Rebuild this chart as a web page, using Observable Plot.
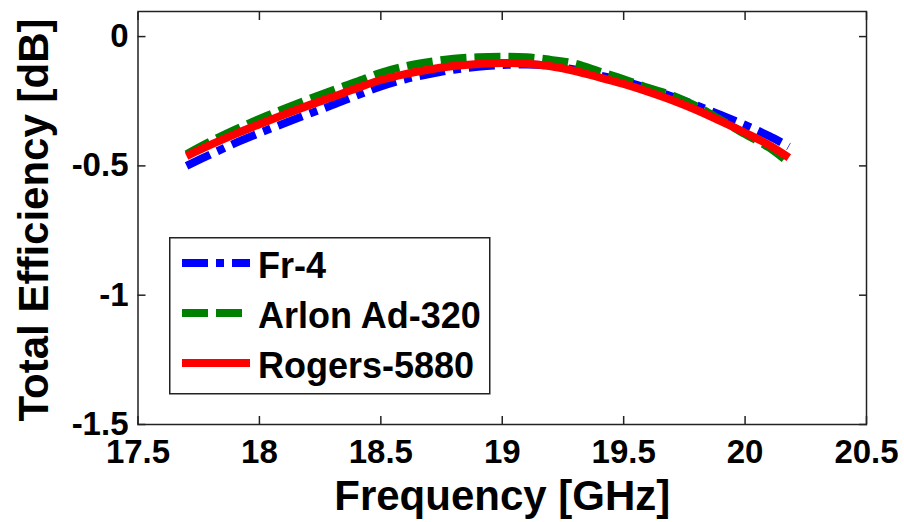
<!DOCTYPE html>
<html><head><meta charset="utf-8">
<script src="https://cdn.jsdelivr.net/npm/d3@7"></script>
<script src="https://cdn.jsdelivr.net/npm/@observablehq/plot@0.6"></script>
<style>
body{margin:0;background:#fff;}
#wrap{position:relative;width:904px;height:522px;font-family:"Liberation Sans",Arial,sans-serif;}
#legend{position:absolute;left:169px;top:237px;}
</style></head>
<body><div id="wrap"></div>
<script>
// ---- data ----
const freq   = [17.7,17.8,17.9,18.0,18.1,18.2,18.3,18.4,18.5,18.6,18.7,18.8,18.9,19.0,19.1,19.2,19.3,19.4,19.5,19.6,19.7,19.8,19.9,20.0,20.1,20.18];
const fr4    = [-0.500,-0.455,-0.412,-0.373,-0.336,-0.300,-0.265,-0.228,-0.193,-0.165,-0.145,-0.128,-0.117,-0.110,-0.108,-0.113,-0.128,-0.150,-0.172,-0.200,-0.232,-0.266,-0.303,-0.342,-0.385,-0.425];
const arlon  = [-0.455,-0.405,-0.360,-0.318,-0.280,-0.243,-0.208,-0.175,-0.140,-0.115,-0.098,-0.086,-0.080,-0.078,-0.080,-0.090,-0.105,-0.135,-0.165,-0.198,-0.228,-0.270,-0.322,-0.377,-0.430,-0.488];
const rogers = [-0.462,-0.418,-0.377,-0.339,-0.302,-0.267,-0.234,-0.200,-0.168,-0.145,-0.127,-0.114,-0.106,-0.102,-0.105,-0.115,-0.133,-0.158,-0.183,-0.213,-0.246,-0.284,-0.327,-0.372,-0.420,-0.468];
const seriesNames = ["Fr-4", "Arlon Ad-320", "Rogers-5880"];
const xTicks = [17.5, 18, 18.5, 19, 19.5, 20, 20.5];
const yTicks = [-1.5, -1, -0.5, 0];
const xLabel = "Frequency [GHz]";
const yLabel = "Total Efficiency [dB]";

// ---- styles ----
const colors = ["#0000ff", "#008000", "#ff0000"];
const dashes = ["26,8,8,8", "26,8", null];
const FONT = '"Liberation Sans", Arial, sans-serif';

const seriesValues = [fr4, arlon, rogers];
const rows = seriesValues.map((vals, s) => vals.map((v, i) => ({series: seriesNames[s], f: freq[i], v})));

const lineMarks = rows.map((data, s) => Plot.line(data, {
  x: "f", y: "v", stroke: colors[s], strokeWidth: 8,
  strokeDasharray: dashes[s] ?? undefined, strokeLinecap: "butt", strokeLinejoin: "round",
  curve: "catmull-rom"
}));

const axisStyle = {fontSize: 33, fontWeight: "bold", stroke: "#222", strokeWidth: 1.5, label: null};

const chart = Plot.plot({
  width: 904, height: 522,
  marginLeft: 137.5, marginRight: 38, marginTop: 11, marginBottom: 98,
  style: {fontFamily: FONT, color: "#000", background: "#fff", overflow: "visible"},
  x: {domain: [17.5, 20.5]},
  y: {domain: [-1.5, 0.097]},
  marks: [
    ...lineMarks,
    Plot.frame({stroke: "#222", strokeWidth: 1.5}),
    Plot.axisX(xTicks, {anchor: "bottom", tickSize: -8, tickPadding: 22.6, tickFormat: d => String(d), ...axisStyle}),
    Plot.axisX(xTicks, {anchor: "top", tickSize: -8, tickFormat: () => "", ...axisStyle}),
    Plot.axisY(yTicks, {anchor: "left", tickSize: -8, tickPadding: 17.5, tickFormat: d => String(d), ...axisStyle}),
    Plot.axisY(yTicks, {anchor: "right", tickSize: -8, tickFormat: () => "", ...axisStyle}),
    Plot.text([xLabel], {text: d => d, frameAnchor: "bottom", textAnchor: "middle", lineAnchor: "top", dy: 56, fontSize: 42, fontWeight: "bold", fill: "#000"}),
    Plot.text([yLabel], {text: d => d, frameAnchor: "left", textAnchor: "middle", rotate: -90, lineAnchor: "top", dx: -119.5, dy: 2, fontSize: 42, fontWeight: "bold", fill: "#000"})
  ]
});
document.getElementById("wrap").appendChild(chart);

// ---- legend (overlay box inside the axes) ----
const leg = d3.select("#wrap").append("svg").attr("id", "legend")
  .attr("width", 322).attr("height", 158);
leg.append("rect").attr("x", 0.75).attr("y", 0.75).attr("width", 320).attr("height", 156)
  .attr("fill", "#fff").attr("stroke", "#222").attr("stroke-width", 1.5);
seriesNames.forEach((name, i) => {
  const g = leg.append("g").attr("transform", `translate(0,${26 + 50 * i})`);
  const ln = g.append("line").attr("x1", 13).attr("x2", 81).attr("y1", 0).attr("y2", 0)
    .attr("stroke", colors[i]).attr("stroke-width", 8).attr("stroke-linecap", "butt");
  if (dashes[i]) ln.attr("stroke-dasharray", dashes[i]);
  g.append("text").attr("x", 89).attr("y", 15).text(name)
    .attr("font-family", FONT).attr("font-size", 36).attr("font-weight", "bold").attr("fill", "#000");
});
</script>
</body></html>
